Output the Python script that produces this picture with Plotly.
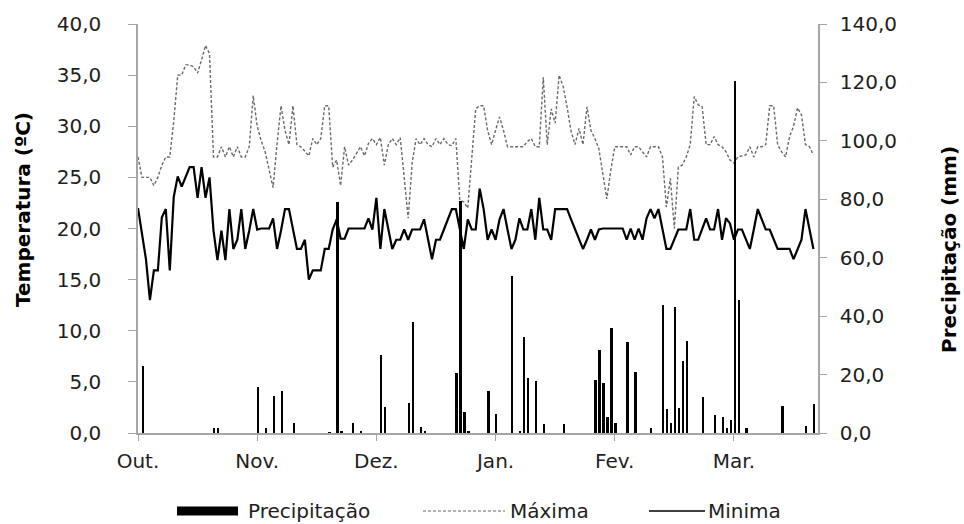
import plotly.graph_objects as go

# ---------------- data ----------------
month_ticks = [0, 30, 60, 90, 120, 150]
month_labels = ["Out.", "Nov.", "Dez.", "Jan.", "Fev.", "Mar."]

temp_ticks = [0, 5, 10, 15, 20, 25, 30, 35, 40]
temp_labels = ["0,0", "5,0", "10,0", "15,0", "20,0", "25,0", "30,0", "35,0", "40,0"]
prec_ticks = [0, 20, 40, 60, 80, 100, 120, 140]
prec_labels = ["0,0", "20,0", "40,0", "60,0", "80,0", "100,0", "120,0", "140,0"]

maxima = [
    27, 25, 25, 25, 24.2, 25, 26.2, 27, 27, 30.5, 35, 35, 36, 36, 35.8, 35.2, 36.5, 37.9, 37.1, 27,
    27, 28, 27, 28, 27, 28, 27, 27, 28, 33, 30, 28.6, 27.5, 25.8, 24, 28.3, 32, 29.6, 28.2, 32,
    28.2, 28, 27.5, 27.1, 28.8, 28.2, 28.8, 32, 32, 26, 26.7, 24.2, 28, 26.2, 26.7, 27.3, 28, 27.1, 28.3,
    28.8, 28.2, 28.9, 26.2, 28.2, 28.8, 28.2, 28.9, 25, 21, 26.4, 28.8, 28.2, 28.8, 28.2, 28, 28.8, 28.2,
    28.8, 28.2, 28.1, 28.8, 22.8, 22.6, 22, 27, 31.7, 32, 32, 29.6, 28.2, 29.6, 30.9, 29.6, 28, 28,
    28, 28, 28, 28.5, 28.8, 28, 28, 34.8, 28.2, 31.7, 30.3, 35, 33.9, 31.9, 29.5, 28.2, 29.8, 28.2,
    31.9, 29.6, 28.8,
    27.8, 25.4, 22.9, 25.7, 28, 28, 28, 28, 27.2, 28, 28, 27.5, 27, 28, 28, 28, 27, 22.1, 24.9, 20,
    26, 26.2, 27, 28.2, 32.9, 32.1, 31.9, 28.2, 28.2, 29, 28.2, 28, 27.5, 26.7, 26.4, 27, 27.1, 27.2,
    28, 27, 28, 28, 28.2, 32, 32, 28.2, 27.5, 27, 29, 30, 31.8, 31.1, 28.2, 28, 27.2,
]

minima = [
    22, 19.5, 17, 13, 15.9, 15.9, 21.1, 21.9, 15.9, 23.1, 25.1, 24.1, 25.1, 26, 26, 23, 26, 23, 25, 19.8,
    16.9, 19.8, 16.9, 21.9, 18, 18.9, 21.9, 18, 19.8, 21.9, 19.9, 20, 20, 20, 21, 18, 19.8, 21.9, 21.9, 19.8,
    18, 18, 18.9, 15, 15.9, 15.9, 15.9, 18, 18, 19.9, 20.9, 19, 19, 20, 20, 20, 20, 20, 21,
    19.9, 23, 18, 21.9, 19.9, 18, 18.9, 18.9, 19.9, 18.9, 19.9, 19.9, 19.9, 20.9, 18.9, 17, 18.9, 18.9,
    19.9, 21, 21.9, 21.9, 19.9, 18, 20.9, 19.9, 19.9, 23.9, 21.9, 18.9, 19.9, 18.9, 20.9, 21.9, 19.9, 18,
    18.9, 21, 19.9, 19.9, 21.9, 18.9, 23, 19.9, 19.9, 18.9, 21.9, 21.9, 21.9, 21.9, 20.9, 19.9, 18.9, 18,
    18.9, 19.9, 18.9, 19.9,
    20, 20, 20, 20, 20, 20, 18.9, 20, 18.9, 20, 18.9, 21, 21.9, 21, 21.9, 19.9, 18, 18, 18.9, 19.9,
    19.9, 19.9, 21.9, 18.9, 18.9, 20, 21, 19.9, 19.9, 21.9, 18.9, 21, 20.5, 18.9, 19.9, 19.9, 18.9, 18,
    19.9, 21.9, 20.9, 19.9, 19.9, 18.9, 18, 18, 18, 18, 17, 18, 18.9, 21.9, 19.9, 18,
]

precip_day = [
    1, 19, 20, 30, 32, 34, 36, 39, 48, 50, 51, 54, 56,
    61, 62, 68, 69, 71, 72, 80, 81, 82, 83, 88, 90, 94, 96, 97, 98, 100, 102, 107,
    115, 116, 117, 118, 119, 120, 123, 125, 129, 132, 133, 134, 135, 136, 137, 138,
    142, 145, 147, 148, 149, 150, 151, 153, 162, 168, 170,
]
precip_mm = [
    22.9, 1.6, 1.6, 15.6, 1.6, 12.7, 14.4, 3.5, 0.3, 79.2, 0.8, 3.5, 0.4,
    26.7, 8.8, 10.4, 37.9, 1.9, 0.8, 20.4, 79.5, 7.3, 0.8, 14.5, 6.5, 53.7, 0.8, 32.7, 18.7, 17.8, 3.0, 3.0,
    18.1, 28.4, 17.2, 5.4, 35.8, 3.5, 31.0, 21.0, 1.6, 43.8, 8.1, 3.3, 43.2, 8.4, 24.6, 31.5,
    12.4, 6.2, 5.6, 1.6, 4.5, 120.6, 45.5, 1.6, 9.2, 2.5, 9.8,
]

days = list(range(len(maxima)))

# ---------------- layout geometry (screen pixels) ----------------
W, H = 964, 524
L, R, T, B = 138, 818, 24, 433          # plot area in screen pixels
PW, PH = R - L, B - T


def px(x):
    return (x - L) / PW


def py(y):
    return (B - y) / PH


FONT = "DejaVu Sans"
AXIS_GREY = "#a6a6a6"
TXT = "#1e1e1e"

fig = go.Figure()

fig.add_trace(go.Scatter(
    x=days, y=maxima, mode="lines", name="Máxima",
    line=dict(color="#6a6a6a", width=1.4, dash="3px,2px"),
    showlegend=False,
))
fig.add_trace(go.Scatter(
    x=days, y=minima, mode="lines", name="Minima",
    line=dict(color="#000000", width=2.2),
    showlegend=False,
))
fig.add_trace(go.Bar(
    x=[d + 0.25 for d in precip_day], y=precip_mm, name="Precipitação",
    marker=dict(color="#000000", line=dict(width=0)),
    width=0.45, yaxis="y2", showlegend=False,
))

fig.update_layout(
    width=W, height=H, autosize=False,
    margin=dict(l=L, r=W - R, t=T, b=H - B, pad=0),
    paper_bgcolor="white", plot_bgcolor="white",
    font=dict(family=FONT, size=20, color=TXT),
    bargap=0,
    xaxis=dict(
        range=[0, PW / 3.973], tickmode="array", tickvals=month_ticks, ticktext=month_labels,
        showline=True, linecolor=AXIS_GREY, linewidth=1.5, mirror=False,
        ticks="outside", ticklen=6, tickcolor=AXIS_GREY, tickwidth=1,
        showgrid=False, zeroline=False, ticklabelstandoff=3,
        tickfont=dict(family=FONT, size=20, color=TXT),
    ),
    yaxis=dict(
        range=[0, 40], tickmode="array", tickvals=temp_ticks, ticktext=temp_labels,
        showline=True, linecolor=AXIS_GREY, linewidth=1.5,
        ticks="outside", ticklen=8, tickcolor=AXIS_GREY, tickwidth=1,
        showgrid=False, zeroline=False, ticklabelstandoff=23,
        tickfont=dict(family=FONT, size=20, color=TXT),
    ),
    yaxis2=dict(
        range=[0, 140], overlaying="y", side="right", anchor="x",
        tickmode="array", tickvals=prec_ticks, ticktext=prec_labels,
        showline=True, linecolor=AXIS_GREY, linewidth=1.5,
        ticks="outside", ticklen=7, tickcolor=AXIS_GREY, tickwidth=1,
        showgrid=False, zeroline=False, ticklabelstandoff=9,
        tickfont=dict(family=FONT, size=20, color=TXT),
    ),
)

# axis titles
fig.add_annotation(
    text="<b>Temperatura (ºC)</b>", xref="paper", yref="paper",
    x=px(23), y=py(210), textangle=-90, showarrow=False,
    xanchor="center", yanchor="middle",
    font=dict(family=FONT, size=20, color="#000000"),
)
fig.add_annotation(
    text="<b>Precipitação (mm)</b>", xref="paper", yref="paper",
    x=px(949), y=py(250), textangle=-90, showarrow=False,
    xanchor="center", yanchor="middle",
    font=dict(family=FONT, size=20, color="#000000"),
)

# legend (drawn manually to reproduce the wide swatches)
ly = 511
fig.add_shape(type="rect", xref="paper", yref="paper",
              x0=px(177), x1=px(238), y0=py(ly + 4.5), y1=py(ly - 4.5),
              fillcolor="#000000", line=dict(width=0))
fig.add_shape(type="line", xref="paper", yref="paper",
              x0=px(423), x1=px(505), y0=py(ly), y1=py(ly),
              line=dict(color="#6a6a6a", width=1.2, dash="3px,2px"))
fig.add_shape(type="line", xref="paper", yref="paper",
              x0=px(649), x1=px(705), y0=py(ly), y1=py(ly),
              line=dict(color="#000000", width=1.6))
for label, xl in [("Precipitação", 246), ("Máxima", 508), ("Minima", 706)]:
    fig.add_annotation(
        text=label, xref="paper", yref="paper", x=px(xl), y=py(ly),
        xanchor="left", yanchor="middle", showarrow=False,
        font=dict(family=FONT, size=20, color=TXT),
    )

# remove the browser's default 8 px page margin so the figure sits at (0, 0)
fig.write_html(
    "out.html",
    config={"displayModeBar": False},
    post_script="document.body.style.margin='0px';document.body.style.overflow='hidden';",
)
